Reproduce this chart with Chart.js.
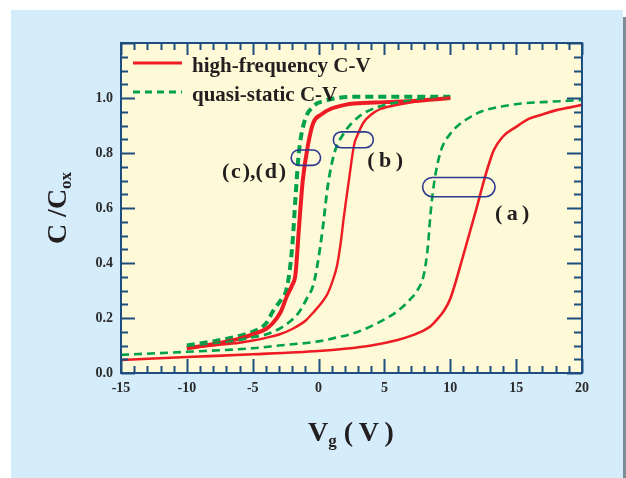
<!DOCTYPE html>
<html>
<head>
<meta charset="utf-8">
<title>C-V curves</title>
<script src="https://cdn.jsdelivr.net/npm/chart.js@4.4.1/dist/chart.umd.min.js"></script>
<style>
  html, body { margin: 0; padding: 0; background: #fff; }
  canvas { display: block; }
</style>
</head>
<body>
<canvas id="cvChart" width="626" height="478"></canvas>
<script>
// gate voltage (V) and normalised capacitance C/Cox for each sweep
const voltsAHf = [-15, -10, -5, 0, 2, 4, 6, 7, 8, 8.5, 9, 9.5, 10, 11, 12, 12.5, 13, 13.3, 14, 15, 16, 17, 18, 19, 20];
const capAHf   = [0.047, 0.058, 0.068, 0.08, 0.088, 0.10, 0.12, 0.135, 0.155, 0.17, 0.195, 0.225, 0.27, 0.43, 0.6, 0.69, 0.77, 0.81, 0.86, 0.895, 0.925, 0.94, 0.955, 0.965, 0.975];

const voltsAQs = [-15, -10, -5, -3, 0, 1, 3, 5, 6, 7, 7.5, 8, 8.3, 8.5, 8.8, 9.3, 10, 10.6, 11.5, 12.3, 14, 15.4, 17, 19.7, 20];
const capAQs   = [0.066, 0.077, 0.09, 0.10, 0.115, 0.125, 0.15, 0.195, 0.225, 0.27, 0.30, 0.36, 0.46, 0.58, 0.70, 0.81, 0.87, 0.90, 0.93, 0.95, 0.97, 0.98, 0.985, 0.992, 0.993];

const voltsBHf = [-10, -8, -6, -5, -4, -3, -2, -1, -0.4, 0.3, 0.7, 1.1, 1.4, 1.7, 1.9, 2.3, 2.7, 3.0, 3.4, 4, 4.7, 6, 7.8, 10];
const capBHf   = [0.09, 0.10, 0.11, 0.118, 0.128, 0.14, 0.16, 0.19, 0.22, 0.26, 0.29, 0.34, 0.39, 0.48, 0.56, 0.70, 0.83, 0.87, 0.91, 0.94, 0.96, 0.975, 0.99, 1.0];

const voltsBQs = [-10, -8, -6, -5, -4, -3, -2.1, -1.5, -0.9, -0.4, -0.1, 0.3, 0.7, 1.2, 1.9, 3.0, 4.7, 7, 10];
const capBQs   = [0.095, 0.105, 0.12, 0.13, 0.14, 0.16, 0.19, 0.22, 0.27, 0.32, 0.39, 0.52, 0.68, 0.80, 0.87, 0.93, 0.97, 0.99, 1.0];

const voltsCdHf = [-10, -8, -6, -5, -4, -3.5, -2.9, -2.4, -2.0, -1.75, -1.5, -1.2, -0.8, -0.4, 0.2, 0.9, 2, 2.7, 5, 7.5, 10];
const capCdHf   = [0.09, 0.105, 0.125, 0.14, 0.16, 0.18, 0.22, 0.28, 0.32, 0.36, 0.52, 0.70, 0.83, 0.91, 0.94, 0.96, 0.975, 0.98, 0.985, 0.99, 1.0];

const voltsCdQs = [-10, -8, -6, -5, -4, -3.4, -2.8, -2.4, -2.0, -1.75, -1.5, -1.1, -0.4, 0.5, 1.4, 3, 6, 10];
const capCdQs   = [0.10, 0.115, 0.135, 0.15, 0.18, 0.23, 0.27, 0.31, 0.46, 0.64, 0.80, 0.91, 0.97, 0.99, 1.0, 1.005, 1.005, 1.005];

// axis ranges and labelled ticks
const xRange = [-15, 20];
const yRange = [0, 1.2];
const xLabelStep = 5;
const yLabelValues = [0, 0.2, 0.4, 0.6, 0.8, 1.0];

// sample groups: stadium outline (V from/to, C centre, C half height) and label position
const groupLabels = ['(\u2009a\u2009)', '(\u2009b\u2009)', '(\u200ac\u200a),(\u200ad\u200a)'];
const groupRings  = [[7.9, 13.4, 0.676, 0.035], [1.12, 4.16, 0.848, 0.029], [-2.08, 0.15, 0.783, 0.028]];
const groupLabelAt = [[14.7, 0.577], [5.06, 0.77], [-4.9, 0.73]];

const RED = '#ed1c24';
const GREEN = '#00a14b';
const FRAME = '#1d4e7f';
const SERIF = "'Liberation Serif', 'Times New Roman', serif";

function toPoints(v, c) {
    return v.map((x, i) => ({ x: x, y: c[i] }));
}

function curve(label, v, c, color, dashed, width) {
    return {
        label: label,
        data: toPoints(v, c),
        borderColor: color,
        borderWidth: width,
        borderDash: dashed ? [8, 5] : [],
        showLine: true,
        pointRadius: 0,
        fill: false,
        cubicInterpolationMode: 'monotone'
    };
}

function stadium(ctx, x1, x2, yc, h) {
    const r = h / 2;
    ctx.beginPath();
    ctx.moveTo(x1 + r, yc - r);
    ctx.lineTo(x2 - r, yc - r);
    ctx.arc(x2 - r, yc, r, -Math.PI / 2, Math.PI / 2);
    ctx.lineTo(x1 + r, yc + r);
    ctx.arc(x1 + r, yc, r, Math.PI / 2, Math.PI * 1.5);
    ctx.closePath();
    ctx.stroke();
}

const decor = {
    id: 'cvDecor',
    beforeDraw(chart) {
        const { ctx, chartArea: a } = chart;
        ctx.save();
        ctx.fillStyle = '#ffffff';
        ctx.fillRect(0, 0, chart.width, chart.height);
        ctx.fillStyle = '#d5ecfa';
        ctx.fillRect(11, 10, 612, chart.height - 10);
        ctx.fillStyle = '#7f8c93';
        ctx.fillRect(623, 17, 3, chart.height - 17);
        ctx.fillStyle = '#fef9d6';
        ctx.fillRect(a.left, a.top, a.right - a.left, a.bottom - a.top);
        ctx.restore();
    },
    afterDatasetsDraw(chart) {
        const { ctx, chartArea: a } = chart;
        const xs = chart.scales.x, ys = chart.scales.y;
        ctx.save();

        // frame and inward ticks on all four sides
        ctx.strokeStyle = FRAME;
        ctx.lineWidth = 2;
        ctx.strokeRect(a.left, a.top, a.right - a.left, a.bottom - a.top);
        ctx.beginPath();
        xs.ticks.forEach(t => {
            const px = Math.round(xs.getPixelForValue(t.value)) + 0.5;
            const major = Math.round(t.value) % xLabelStep === 0;
            ctx.moveTo(px, a.bottom); ctx.lineTo(px, a.bottom - (major ? 14 : 7));
            ctx.moveTo(px, a.top); ctx.lineTo(px, a.top + (major ? 12 : 7));
        });
        ys.ticks.forEach(t => {
            const py = Math.round(ys.getPixelForValue(t.value)) + 0.5;
            const major = Math.round(t.value * 100) % 20 === 0;
            ctx.moveTo(a.left, py); ctx.lineTo(a.left + (major ? 14 : 7), py);
            ctx.moveTo(a.right, py); ctx.lineTo(a.right - (major ? 15 : 8), py);
        });
        ctx.stroke();

        // sample group rings and their labels
        ctx.strokeStyle = '#2b3990';
        ctx.lineWidth = 1.6;
        groupRings.forEach(g => {
            const y1 = ys.getPixelForValue(g[2] + g[3]);
            const y2 = ys.getPixelForValue(g[2] - g[3]);
            stadium(ctx, xs.getPixelForValue(g[0]), xs.getPixelForValue(g[1]), (y1 + y2) / 2, y2 - y1);
        });
        ctx.fillStyle = '#231f20';
        ctx.font = 'bold 22px ' + SERIF;
        ctx.textAlign = 'center';
        ctx.textBaseline = 'middle';
        groupLabels.forEach((s, i) => {
            ctx.fillText(s, xs.getPixelForValue(groupLabelAt[i][0]), ys.getPixelForValue(groupLabelAt[i][1]));
        });

        // legend
        const lx = a.left + 12, ly1 = a.top + 20, ly2 = a.top + 49;
        ctx.lineWidth = 3;
        ctx.strokeStyle = RED;
        ctx.beginPath(); ctx.moveTo(lx, ly1); ctx.lineTo(lx + 49, ly1); ctx.stroke();
        ctx.strokeStyle = GREEN;
        ctx.setLineDash([7, 5]);
        ctx.beginPath(); ctx.moveTo(lx, ly2); ctx.lineTo(lx + 49, ly2); ctx.stroke();
        ctx.setLineDash([]);
        ctx.textAlign = 'left';
        ctx.textBaseline = 'alphabetic';
        ctx.font = 'bold 21px ' + SERIF;
        ctx.fillText('high-frequency C-V', lx + 59, ly1 + 9);
        ctx.fillText('quasi-static C-V', lx + 59, ly2 + 9);

        // y title: C / Cox
        ctx.save();
        ctx.translate(56, 208);
        ctx.rotate(-Math.PI / 2);
        ctx.font = 'bold 28px ' + SERIF;
        const mainY = 'C /C';
        const wMain = ctx.measureText(mainY).width;
        ctx.font = 'bold 17px ' + SERIF;
        const wSub = ctx.measureText('ox').width;
        let x0 = -(wMain + wSub) / 2;
        ctx.font = 'bold 28px ' + SERIF;
        ctx.textBaseline = 'alphabetic';
        ctx.fillText(mainY, x0, 10);
        ctx.font = 'bold 17px ' + SERIF;
        ctx.fillText('ox', x0 + wMain, 15);
        ctx.restore();

        // x title: Vg (V)
        ctx.font = 'bold 28px ' + SERIF;
        const wV = ctx.measureText('V').width;
        const tail = '(\u2009V\u2009)';
        const wTail = ctx.measureText(tail).width;
        ctx.font = 'bold 17px ' + SERIF;
        const wG = ctx.measureText('g').width;
        const total = wV + wG + 7 + wTail;
        let tx = 351 - total / 2;
        ctx.font = 'bold 28px ' + SERIF;
        ctx.fillText('V', tx, 441);
        ctx.font = 'bold 17px ' + SERIF;
        ctx.fillText('g', tx + wV, 446);
        ctx.font = 'bold 28px ' + SERIF;
        ctx.fillText(tail, tx + wV + wG + 7, 441);

        ctx.restore();
    }
};

new Chart(document.getElementById('cvChart'), {
    type: 'scatter',
    data: {
        datasets: [
            curve('(a) high-frequency', voltsAHf, capAHf, RED, false, 2.6),
            curve('(a) quasi-static', voltsAQs, capAQs, GREEN, true, 2.6),
            curve('(b) high-frequency', voltsBHf, capBHf, RED, false, 2.4),
            curve('(b) quasi-static', voltsBQs, capBQs, GREEN, true, 2.8),
            curve('(c),(d) high-frequency', voltsCdHf, capCdHf, RED, false, 4),
            curve('(c),(d) quasi-static', voltsCdQs, capCdQs, GREEN, true, 4)
        ]
    },
    options: {
        responsive: false,
        animation: false,
        layout: { padding: { left: 0, right: 44, top: 43, bottom: 0 } },
        plugins: {
            legend: { display: false },
            tooltip: { enabled: false }
        },
        scales: {
            x: {
                type: 'linear',
                min: xRange[0],
                max: xRange[1],
                grid: { display: false, drawTicks: false },
                border: { display: false },
                afterFit: s => { s.height = 105; },
                ticks: {
                    stepSize: 1,
                    autoSkip: false,
                    maxRotation: 0,
                    padding: 7,
                    color: '#2b2b2b',
                    font: { family: SERIF, size: 14, weight: 'bold' },
                    callback: v => (Math.round(v) % xLabelStep === 0 ? String(Math.round(v)) : '')
                }
            },
            y: {
                type: 'linear',
                min: yRange[0],
                max: yRange[1],
                grid: { display: false, drawTicks: false },
                border: { display: false },
                afterFit: s => { s.width = 121; },
                ticks: {
                    stepSize: 0.05,
                    autoSkip: false,
                    padding: 8,
                    color: '#2b2b2b',
                    font: { family: SERIF, size: 14, weight: 'bold' },
                    callback: v => {
                        const hit = yLabelValues.find(l => Math.abs(l - v) < 1e-6);
                        return hit === undefined ? '' : hit.toFixed(1);
                    }
                }
            }
        }
    },
    plugins: [decor]
});
</script>
</body>
</html>
